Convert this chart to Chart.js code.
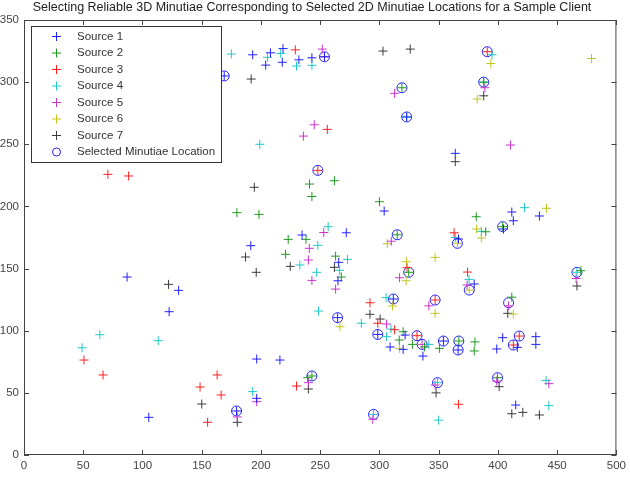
<!DOCTYPE html>
<html>
<head>
<meta charset="utf-8">
<script src="https://cdn.jsdelivr.net/npm/chart.js@4/dist/chart.umd.min.js"></script>
<style>
  body { margin: 0; background: #fff; }
  canvas { display: block; }
</style>
</head>
<body>
<canvas id="chart" width="630" height="477"></canvas>
<script>
const titleText = 'Selecting Reliable 3D Minutiae Corresponding to Selected 2D Minutiae Locations for a Sample Client';
const xTicks = [0, 50, 100, 150, 200, 250, 300, 350, 400, 450, 500];
const yTicks = [0, 50, 100, 150, 200, 250, 300, 350];

const labels = ['Source 1', 'Source 2', 'Source 3', 'Source 4', 'Source 5', 'Source 6', 'Source 7', 'Selected Minutiae Location'];
const colors = ['#2020ff', '#1f9a1f', '#ff2020', '#22c8c8', '#cc33cc', '#c4c420', '#3a3a3a', '#2020ff'];

const source1 = [[193,322],[208,323.6],[218.6,327],[204,313.7],[218,316],[232,318],[243,319.6],[253.6,320.4],
  [364,242.7],[87,143.2],[130.5,132.5],[122.5,115.3],[105.3,30.3],[191.4,168.4],[234.7,177],[304,196.3],
  [272,178.8],[366.7,173.8],[265.6,155],[265,140.2],[380,137.6],[404.7,181.8],[411.7,195.5],[413,188.5],
  [435,192.3],[196.4,77.2],[216,76.4],[196.4,45.6],[179.4,35.4],[264.7,110.5],[298.6,97],[309,86.9],
  [321.7,96.5],[320,85],[336.7,79.6],[354,91.7],[366.4,84.5],[404,94.4],[399,85.3],[416.4,86.6],
  [432,95.2],[432,89],[415,40.2],[311.7,125.5],[323,272],[169,305]];
const source2 = [[241,218],[243,208],[179.7,195],[198.3,193.6],[223,173.5],[238,173.5],[220.8,161.5],[262,220.7],
  [300,203.8],[315,177.2],[381.7,191.7],[389.7,179.6],[404,183.7],[263,160],[267.8,143.2],[324.7,147],
  [470,148.3],[411.7,127],[243,63.6],[239.4,62.2],[316.7,92.5],[320,99.2],[327.8,89],[338,87],
  [350.6,85.8],[367,91.7],[380.6,91],[380,83.7],[319,295.5],[388,300],[399.7,62.2]];
const source3 = [[229,326],[256,262],[70.8,225.8],[88.3,224.5],[50.6,76.4],[66.7,64.4],[163,64.4],[148.6,54.7],
  [166.4,48.3],[155,26.3],[230,55.5],[248,229],[363,178.8],[323.3,150.7],[374.4,147.2],[292,122.5],
  [347,124.7],[298.6,106],[312.8,100.8],[331.7,96],[366.7,40.8],[418,95.7],[413,88.5],[391,324.5]];
const source4 = [[175,322.6],[205.5,320],[216.7,323],[230,313],[243,313.5],[199,250],[395,322],[256.7,183.7],
  [248,168.7],[232.8,152.9],[247,147],[248.6,115.8],[364,175],[273,157.4],[266.4,148.6],[375.6,141.3],
  [305.6,126.6],[422.5,199],[386,180],[466.7,147],[49,86.3],[64,96.8],[113.3,92],[193,51],
  [284.7,106],[309.7,101.4],[306,95.2],[341.7,89],[349,58.2],[350,28],[295,32.7],[440.6,60],
  [443,39.7],[323,272],[388,300]];
const source5 = [[251.7,326.6],[253.6,320.4],[245,265.7],[235.8,256.6],[312.8,291],[389,295.5],[410.6,249.4],[253,179],
  [240.8,166.3],[240,156.9],[243,140.5],[310,172],[263,133.5],[317,142.6],[374,136.8],[341.7,120],
  [466,142],[409,120],[196.4,42.9],[180,30.6],[240,58.2],[306,105.4],[336,89],[347,56.3],
  [294.4,28.7],[399,59.5],[443,57.4]];
const source6 = [[394,315],[479,319],[382.5,286.4],[306.7,170],[365.8,170.3],[382,181.8],[386,174.6],[441,198.5],
  [322.8,155.5],[347,159],[322.5,140.2],[375.8,132.7],[311,119.9],[266.7,103.2],[317,85.8],[347,114],
  [413,113.4]];
const source7 = [[303,325],[326,326.6],[191.7,302.5],[364,236],[388,289],[122,137.3],[194.4,215.4],[187,159.3],
  [196,147],[224.7,151.8],[262,151],[466.7,136],[150,41],[180,26.3],[240,53.1],[292,113.2],
  [300.6,109.4],[347.8,50],[408.3,114],[401,55],[411.7,33.2],[421,34.3],[435,32.2]];
const selected = [[169,305],[253.6,320.4],[319,295.5],[323,272],[391,324.5],[388,300],[248,229],[315,177.2],
  [365.8,170.3],[404,183.7],[324.7,147],[375.8,132.7],[311.7,125.5],[347,124.7],[466.7,147],[409,122.5],
  [264.7,110.5],[298.6,97],[331.7,96],[336,89],[354,91.7],[367,91.7],[366.4,84.5],[418,95.7],
  [413,88.5],[399.7,62.2],[349,58.2],[295,32.7],[243,63.6],[179.4,35.4]];

const allSeries = [source1, source2, source3, source4, source5, source6, source7, selected];

const datasets = allSeries.map((pts, i) => {
  const isCircle = i === 7;
  return {
    label: labels[i],
    data: pts.map(p => ({ x: p[0], y: p[1] })),
    pointStyle: isCircle ? 'circle' : 'cross',
    pointRadius: isCircle ? 5 : 4.5,
    pointBorderWidth: 1,
    borderColor: colors[i],
    backgroundColor: 'rgba(0,0,0,0)',
    pointBackgroundColor: 'rgba(0,0,0,0)',
    pointBorderColor: colors[i],
    showLine: false
  };
});

// box, inward ticks and a matlab style legend
const framePlugin = {
  id: 'frame',
  afterDraw(chart) {
    const { ctx, chartArea: a, scales } = chart;
    ctx.save();
    ctx.strokeStyle = '#444';
    ctx.lineWidth = 1;
    ctx.strokeRect(a.left + 0.5, a.top + 0.5, a.right - a.left - 1, a.bottom - a.top - 1);
    ctx.beginPath();
    scales.x.ticks.forEach(t => {
      const px = Math.round(scales.x.getPixelForValue(t.value)) + 0.5;
      ctx.moveTo(px, a.bottom); ctx.lineTo(px, a.bottom - 5);
      ctx.moveTo(px, a.top); ctx.lineTo(px, a.top + 5);
    });
    scales.y.ticks.forEach(t => {
      const py = Math.round(scales.y.getPixelForValue(t.value)) + 0.5;
      ctx.moveTo(a.left, py); ctx.lineTo(a.left + 5, py);
      ctx.moveTo(a.right, py); ctx.lineTo(a.right - 5, py);
    });
    ctx.stroke();

    // legend
    const lx = 31, ly = 26, lw = 190, lh = 136;
    ctx.fillStyle = '#fff';
    ctx.fillRect(lx, ly, lw, lh);
    ctx.strokeStyle = '#333';
    ctx.strokeRect(lx + 0.5, ly + 0.5, lw, lh);
    ctx.font = '11.5px "Liberation Sans", Arial, sans-serif';
    ctx.textBaseline = 'middle';
    chart.data.datasets.forEach((ds, i) => {
      const cy = 36.5 + i * 16.5;
      const cx = 56.5;
      ctx.strokeStyle = ds.pointBorderColor;
      ctx.beginPath();
      if (ds.pointStyle === 'circle') {
        ctx.arc(cx, cy, 4, 0, Math.PI * 2);
      } else {
        ctx.moveTo(cx - 4.5, cy); ctx.lineTo(cx + 4.5, cy);
        ctx.moveTo(cx, cy - 4.5); ctx.lineTo(cx, cy + 4.5);
      }
      ctx.stroke();
      ctx.fillStyle = '#333';
      ctx.fillText(ds.label, 77, cy);
    });
    ctx.restore();
  }
};

new Chart(document.getElementById('chart'), {
  type: 'scatter',
  data: { datasets },
  options: {
    responsive: false,
    animation: false,
    layout: { padding: { left: 0, right: 6, top: 0, bottom: 0 } },
    plugins: {
      legend: { display: false },
      tooltip: { enabled: false },
      title: {
        display: true,
        text: titleText,
        color: '#222',
        font: { family: '"Liberation Sans", Arial, sans-serif', size: 12.5, weight: 'normal', lineHeight: 1.2 },
        padding: { top: 0, bottom: 5 }
      }
    },
    scales: {
      x: {
        type: 'linear',
        min: 0,
        max: 500,
        afterBuildTicks: s => { s.ticks = xTicks.map(v => ({ value: v })); },
        afterFit: s => { s.height = 22; },
        grid: { display: false, drawTicks: false },
        border: { display: false },
        ticks: { padding: 4, color: '#444', font: { family: '"Liberation Sans", Arial, sans-serif', size: 11.5 } }
      },
      y: {
        type: 'linear',
        min: 0,
        max: 350,
        afterBuildTicks: s => { s.ticks = yTicks.map(v => ({ value: v })); },
        afterFit: s => { s.width = 24; },
        grid: { display: false, drawTicks: false },
        border: { display: false },
        ticks: { padding: 5, color: '#444', font: { family: '"Liberation Sans", Arial, sans-serif', size: 11.5 } }
      }
    }
  },
  plugins: [framePlugin]
});
</script>
</body>
</html>
